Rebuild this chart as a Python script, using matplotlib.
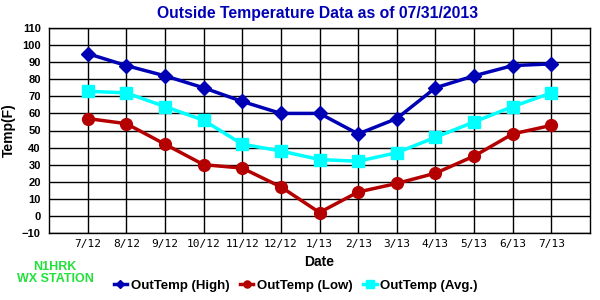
import matplotlib
matplotlib.use("Agg")
import matplotlib.pyplot as plt
from matplotlib.ticker import MultipleLocator

dates = ["7/12", "8/12", "9/12", "10/12", "11/12", "12/12", "1/13", "2/13",
         "3/13", "4/13", "5/13", "6/13", "7/13"]
high = [95, 88, 82, 75, 67, 60, 60, 48, 57, 75, 82, 88, 89]
low = [57, 54, 42, 30, 28, 17, 2, 14, 19, 25, 35, 48, 53]
avg = [73, 72, 64, 56, 42, 38, 33, 32, 37, 46, 55, 64, 72]

c_high = "#0000b4"
c_low = "#b40000"
c_avg = "#00ffff"

plt.rcParams['font.family'] = ['Liberation Sans', 'DejaVu Sans']
fig = plt.figure(figsize=(6, 3), dpi=100)
ax = fig.add_axes([49/600, 1-233/300, (590-49)/600, (233-28)/300])
x = list(range(len(dates)))

ax.plot(x, high, color=c_high, lw=2.5, marker="D", ms=7, label="OutTemp (High)", zorder=3)
ax.plot(x, low, color=c_low, lw=2.5, marker="o", ms=8.5, label="OutTemp (Low)", zorder=3)
ax.plot(x, avg, color=c_avg, lw=2.5, marker="s", ms=9, label="OutTemp (Avg.)", zorder=3)

ax.set_xlim(-1, 13)
ax.set_ylim(-10, 110)
ax.yaxis.set_major_locator(MultipleLocator(10))
ax.set_xticks(x)
ax.set_xticklabels(dates, family="DejaVu Sans Mono", fontsize=8)
for lab in ax.get_yticklabels():
    lab.set_fontsize(8)
    lab.set_fontweight("bold")
ax.tick_params(axis="x", length=0, pad=4)
ax.tick_params(axis="y", length=0, pad=6)
ax.grid(True, color="black", lw=1)
ax.set_axisbelow(True)
for s in ax.spines.values():
    s.set_color("black")
    s.set_linewidth(1)

ax.set_ylabel("Temp(F)", fontsize=10, fontweight="bold", labelpad=4)
ax.set_xlabel("Date", fontsize=10, fontweight="bold", labelpad=5)
fig.text(0.53, 0.955, "Outside Temperature Data as of 07/31/2013", ha="center", va="center",
         fontsize=11.3, fontweight="bold", color="#0000b4")
fig.text(0.092, 0.09, "N1HRK\nWX STATION", ha="center", va="center", fontsize=9,
         fontweight="bold", color="#22e03a", linespacing=1.0)

leg = fig.legend(loc="center", bbox_to_anchor=(0.493, 0.047), ncol=3, frameon=False,
                 prop={"weight": "bold", "size": 9.5}, handlelength=1.0, columnspacing=0.8,
                 handletextpad=0.3, markerscale=0.6, borderpad=0)
fig.savefig("out.png", dpi=100)
